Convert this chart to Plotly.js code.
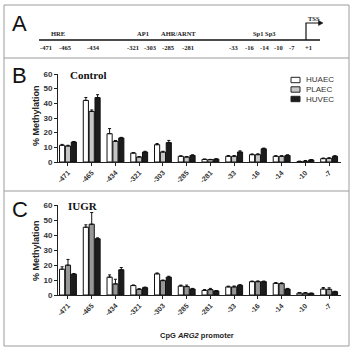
<!DOCTYPE html>
<html>
<head>
<meta charset="utf-8">
<script src="https://cdn.plot.ly/plotly-3.0.1.min.js"></script>
<style>
  html, body { margin: 0; padding: 0; background: #fff; }
  #chart { width: 359px; height: 359px; }
</style>
</head>
<body>
<div id="chart"></div>
<script>
// CpG sites of the ARG2 promoter (bp relative to TSS)
const cpgSites = ['-471', '-465', '-434', '-321', '-303', '-285', '-281', '-33', '-16', '-14', '-10', '-7'];
const cellTypes = ['HUAEC', 'PLAEC', 'HUVEC'];

// % methylation, control pregnancies
const controlHUAEC = [11.4, 42.0, 19.3, 6.1, 11.8, 3.9, 1.8, 3.9, 5.0, 3.9, 0.3, 2.3];
const controlPLAEC = [10.9, 34.5, 14.1, 3.4, 6.8, 3.4, 1.6, 3.9, 5.0, 3.9, 0.5, 2.5];
const controlHUVEC = [13.6, 43.9, 16.4, 6.8, 13.2, 4.5, 2.0, 6.8, 9.0, 4.5, 1.4, 3.9];
const controlHUAECErr = [0.6, 2.0, 3.5, 0.3, 0.8, 0.3, 0.2, 0.5, 0.5, 0.4, 0.3, 0.4];
const controlPLAECErr = [0.5, 1.0, 0.6, 0.3, 0.5, 0.3, 0.2, 0.5, 0.6, 0.4, 0.5, 0.4];
const controlHUVECErr = [0.4, 2.0, 0.4, 0.5, 1.5, 0.4, 0.2, 0.8, 0.5, 0.4, 0.3, 0.4];

// % methylation, IUGR pregnancies
const iugrHUAEC = [17.2, 45.2, 11.9, 6.3, 14.1, 6.0, 3.1, 5.4, 8.9, 7.8, 1.3, 4.0];
const iugrPLAEC = [19.9, 47.2, 7.4, 3.8, 9.6, 5.6, 3.6, 5.4, 8.9, 7.6, 1.3, 3.8];
const iugrHUVEC = [13.9, 37.5, 16.8, 4.9, 11.9, 4.0, 2.7, 6.5, 8.9, 4.0, 1.1, 2.2];
const iugrHUAECErr = [1.6, 1.6, 1.5, 0.4, 0.6, 0.6, 0.5, 0.5, 0.4, 0.5, 0.3, 1.0];
const iugrPLAECErr = [3.8, 7.8, 3.1, 0.4, 0.4, 1.0, 0.8, 0.6, 0.5, 0.5, 0.3, 1.0];
const iugrHUVECErr = [0.4, 0.6, 1.5, 0.4, 0.6, 0.4, 0.3, 0.4, 0.4, 0.4, 0.2, 0.3];

// promoter schematic: site labels and transcription-factor elements
const schematicSites = ['-471', '-465', '-434', '-321', '-303', '-285', '-281', '-33', '-16', '-14', '-10', '-7', '+1'];
const schematicElements = ['HRE', 'AP1', 'AHR/ARNT', 'Sp1 Sp3'];

// ---- layout helpers (pixel -> paper) ----
const W = 359, H = 359;
const X = px => px / W;
const Y = py => 1 - py / H;

const siteX = [46.5, 65.3, 93.7, 132.5, 150, 168.3, 187.5, 233.7, 249.2, 264.2, 278.8, 291.7, 308.3];
const elementX = [57.5, 142.5, 178, 264];

const fills = {
  control: ['#ffffff', '#c6c6c6', '#1c1c1c'],
  iugr: ['#ffffff', '#979797', '#1c1c1c']
};

function barTrace(name, values, errs, fill, xa, ya) {
  return {
    type: 'bar', name: name, x: cpgSites, y: values,
    xaxis: xa, yaxis: ya, showlegend: false,
    marker: { color: fill, line: { color: '#111', width: 1 } },
    error_y: {
      type: 'data', symmetric: false, array: errs,
      arrayminus: errs.map(() => 0), color: '#111', thickness: 1, width: 1.5
    },
    hoverinfo: 'skip'
  };
}

const data = [
  barTrace('HUAEC', controlHUAEC, controlHUAECErr, fills.control[0], 'x', 'y'),
  barTrace('PLAEC', controlPLAEC, controlPLAECErr, fills.control[1], 'x', 'y'),
  barTrace('HUVEC', controlHUVEC, controlHUVECErr, fills.control[2], 'x', 'y'),
  barTrace('HUAEC', iugrHUAEC, iugrHUAECErr, fills.iugr[0], 'x2', 'y2'),
  barTrace('PLAEC', iugrPLAEC, iugrPLAECErr, fills.iugr[1], 'x2', 'y2'),
  barTrace('HUVEC', iugrHUVEC, iugrHUVECErr, fills.iugr[2], 'x2', 'y2')
];

const sans = 'Liberation Sans, Arial, sans-serif';
const serif = 'Liberation Serif, Times New Roman, serif';
const axisInk = '#222';

function xAxis(anchor) {
  return {
    anchor: anchor, domain: [X(58), X(341)], type: 'category',
    range: [-0.42, 11.5], showline: true, linecolor: axisInk, linewidth: 1,
    ticks: 'outside', ticklen: 3, tickwidth: 1, tickcolor: axisInk,
    tickangle: -45, showgrid: false, zeroline: false, fixedrange: true,
    tickfont: { family: sans, size: 7, weight: 'bold', color: '#333' }
  };
}
function yAxis(anchor, top, bottom) {
  return {
    anchor: anchor, domain: [Y(bottom), Y(top)], range: [0, 60], dtick: 10,
    showline: true, linecolor: axisInk, linewidth: 1,
    ticks: 'outside', ticklen: 3, tickwidth: 1, tickcolor: axisInk,
    showgrid: false, zeroline: false, fixedrange: true,
    tickfont: { family: sans, size: 8, weight: 'bold', color: '#333' }
  };
}

const frame = '#9c9c9c';
const shapes = [
  { type: 'rect', xref: 'paper', yref: 'paper', x0: X(4), x1: X(349), y0: Y(346), y1: Y(5), line: { color: frame, width: 1 } },
  { type: 'line', xref: 'paper', yref: 'paper', x0: X(4), x1: X(349), y0: Y(58), y1: Y(58), line: { color: frame, width: 1 } },
  { type: 'line', xref: 'paper', yref: 'paper', x0: X(4), x1: X(349), y0: Y(191), y1: Y(191), line: { color: frame, width: 1 } },
  // promoter line
  { type: 'line', xref: 'paper', yref: 'paper', x0: X(39), x1: X(320), y0: Y(40), y1: Y(40), line: { color: '#111', width: 1.5 } },
  // TSS arrow
  { type: 'path', xref: 'paper', yref: 'paper',
    path: `M ${X(306)} ${Y(40)} L ${X(306)} ${Y(23)} L ${X(319)} ${Y(23)}`, line: { color: '#111', width: 1.2 } },
  { type: 'path', xref: 'paper', yref: 'paper', fillcolor: '#111',
    path: `M ${X(318.5)} ${Y(20.5)} L ${X(323)} ${Y(23)} L ${X(318.5)} ${Y(25.5)} Z`, line: { color: '#111', width: 0.5 } }
];

const annotations = [];
function txt(text, px, py, font, extra) {
  annotations.push(Object.assign({
    text: text, xref: 'paper', yref: 'paper', x: X(px), y: Y(py),
    xanchor: 'center', yanchor: 'middle', showarrow: false, font: font
  }, extra || {}));
}

// panel letters
const letterFont = { family: sans, size: 22, color: '#111' };
txt('A', 19.5, 23, letterFont);
txt('B', 19.5, 75.5, letterFont);
txt('C', 20, 209, letterFont);

// schematic labels
const schemFont = { family: serif, size: 6.5, weight: 'bold', color: '#222' };
schematicSites.forEach((s, i) => txt(s, siteX[i], 47.5, schemFont));
schematicElements.forEach((s, i) => txt(s, elementX[i], 33.5, schemFont));
txt('TSS', 314, 18, schemFont);

// panel titles
const panelFont = { family: serif, size: 11, weight: 'bold', color: '#111' };
txt('Control', 68, 75, panelFont, { xanchor: 'left' });
txt('IUGR', 66, 206, panelFont, { xanchor: 'left' });

// axis titles
const axTitleFont = { family: sans, size: 9, weight: 'bold', color: '#222' };
txt('% Methylation', 36, 116, axTitleFont, { textangle: -90 });
txt('% Methylation', 36, 251, axTitleFont, { textangle: -90 });
txt('CpG <i>ARG2</i> promoter', 197, 335, { family: sans, size: 7.5, weight: 'bold', color: '#222' });

// legend
const legendFills = ['#ffffff', '#c8c8c8', '#1c1c1c'];
const legendY = [80, 89.5, 99];
cellTypes.forEach((name, i) => {
  shapes.push({ type: 'rect', xref: 'paper', yref: 'paper',
    x0: X(291), x1: X(300), y0: Y(legendY[i] + 2.7), y1: Y(legendY[i] - 2.7),
    fillcolor: legendFills[i], line: { color: '#222', width: 1 } });
  txt(name, 304, legendY[i], { family: sans, size: 8, color: '#333' }, { xanchor: 'left' });
});

// significance marks
annotations.push({ text: '#', xref: 'x', yref: 'y', x: '-465', y: controlPLAEC[1] + controlPLAECErr[1],
  yanchor: 'bottom', showarrow: false, font: { family: sans, size: 6, color: '#222' } });
annotations.push({ text: '*', xref: 'x2', yref: 'y2', x: '-465', xshift: 6, y: iugrHUVEC[1] + iugrHUVECErr[1],
  yanchor: 'bottom', showarrow: false, font: { family: sans, size: 8, weight: 'bold', color: '#222' } });

const layout = {
  width: W, height: H, margin: { l: 0, r: 0, t: 0, b: 0 },
  paper_bgcolor: '#fff', plot_bgcolor: 'rgba(0,0,0,0)',
  barmode: 'group', bargap: 0.26, bargroupgap: 0.12,
  showlegend: false,
  xaxis: xAxis('y'), yaxis: yAxis('x', 74, 162),
  xaxis2: xAxis('y2'), yaxis2: yAxis('x2', 205, 295),
  shapes: shapes, annotations: annotations
};

Plotly.newPlot('chart', data, layout, { displayModeBar: false, staticPlot: true });
</script>
</body>
</html>
